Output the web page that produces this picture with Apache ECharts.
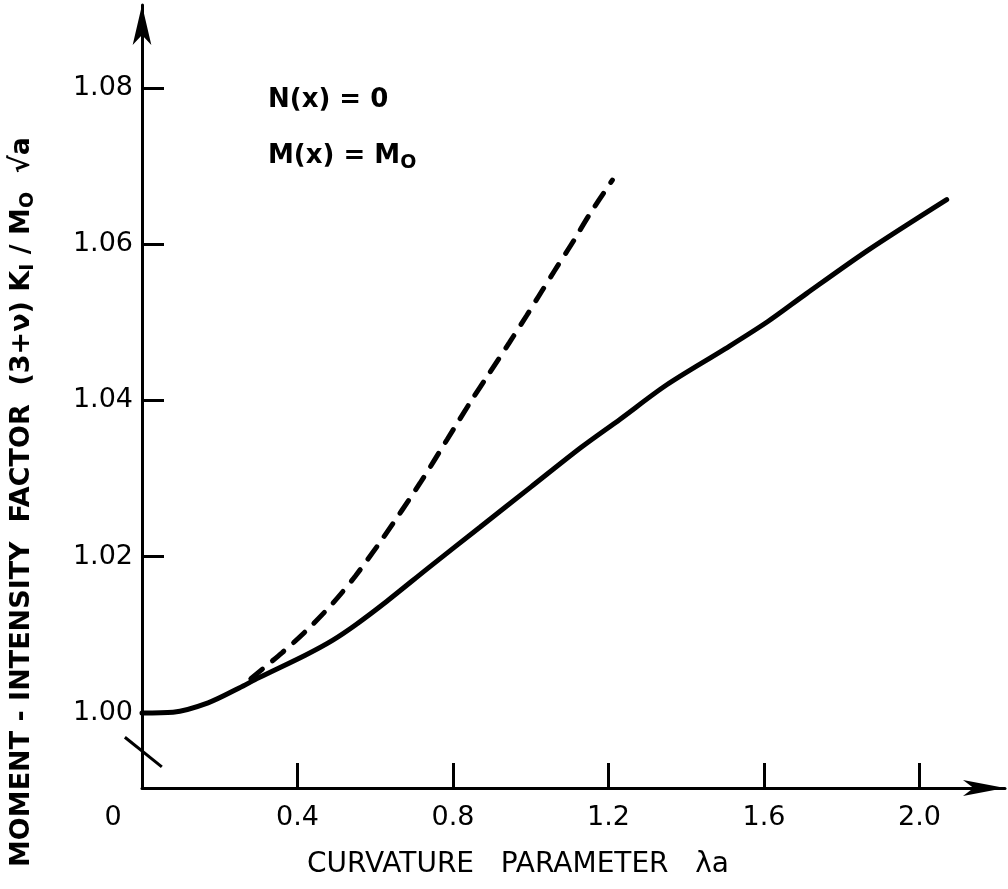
<!DOCTYPE html>
<html>
<head>
<meta charset="utf-8">
<title>Moment-intensity factor</title>
<script src="https://cdn.jsdelivr.net/npm/echarts@6/dist/echarts.min.js"></script>
<style>
  html, body { margin: 0; padding: 0; background: #fff; }
  #main { width: 1008px; height: 889px; }
</style>
</head>
<body>
<div id="main"></div>
<script>
// solid curve
var solidX = [0, 0.08, 0.17, 0.25, 0.30, 0.42, 0.49, 0.55, 0.63, 0.74, 0.87, 1.00, 1.13, 1.23, 1.35, 1.50, 1.61, 1.71, 1.87, 2.07];
var solidY = [1.0000, 1.0001, 1.0013, 1.0032, 1.0045, 1.0074, 1.0093, 1.0113, 1.0143, 1.0187, 1.0238, 1.0289, 1.0340, 1.0376, 1.0420, 1.0466, 1.0501, 1.0537, 1.0593, 1.0657];
// dashed curve
var dashX = [0.28, 0.36, 0.42, 0.49, 0.55, 0.62, 0.715, 0.785, 0.845, 0.895, 0.945, 0.99, 1.02, 1.06, 1.11, 1.15, 1.21];
var dashY = [1.0044, 1.0077, 1.0104, 1.0140, 1.0176, 1.0224, 1.0294, 1.0350, 1.0398, 1.0436, 1.0474, 1.0509, 1.0533, 1.0565, 1.0604, 1.0637, 1.0682];

var xTicks = [0.4, 0.8, 1.2, 1.6, 2.0];
var xLabels = [0, 0.4, 0.8, 1.2, 1.6, 2.0];
var yTicks = [1.00, 1.02, 1.04, 1.06, 1.08];

// little "broken axis" slash near the origin (data coords)
var breakX = [-0.044, 0.051];
var breakY = [0.9969, 0.9931];

function pairs(xs, ys) {
    return xs.map(function (x, i) { return [x, ys[i]]; });
}

var font = 'DejaVu Sans';
var chart = echarts.init(document.getElementById('main'), null, {renderer: 'canvas'});

chart.setOption({
    backgroundColor: '#fff',
    animation: false,
    grid: {left: 142, right: 3, top: 5, bottom: 101},
    xAxis: {
        type: 'value',
        min: 0,
        max: 2.22,
        splitLine: {show: false},
        axisLine: {
            onZero: false,
            symbol: ['none', 'arrow'],
            symbolSize: [12, 42],
            lineStyle: {color: '#000', width: 3}
        },
        axisTick: {
            inside: true,
            length: 25,
            customValues: xTicks,
            lineStyle: {color: '#000', width: 3}
        },
        axisLabel: {
            customValues: xLabels,
            margin: 16,
            color: '#000',
            fontFamily: font,
            fontSize: 27,
            formatter: function (v) {
                return v === 0 ? '{z|0}' : v.toFixed(1);
            },
            rich: {
                z: {padding: [0, 58, 0, 0], fontFamily: font, fontSize: 27, color: '#000'}
            }
        }
    },
    yAxis: {
        type: 'value',
        min: 0.9904,
        max: 1.0906,
        splitLine: {show: false},
        axisLine: {
            onZero: false,
            symbol: ['none', 'arrow'],
            symbolSize: [14, 40],
            lineStyle: {color: '#000', width: 3}
        },
        axisTick: {
            inside: true,
            length: 22,
            customValues: yTicks,
            lineStyle: {color: '#000', width: 3}
        },
        axisLabel: {
            customValues: yTicks,
            margin: 9,
            color: '#000',
            fontFamily: font,
            fontSize: 27,
            formatter: function (v) { return v.toFixed(2); }
        }
    },
    series: [
        {
            type: 'line',
            data: pairs(solidX, solidY),
            smooth: 0.3,
            showSymbol: false,
            lineStyle: {color: '#000', width: 5, cap: 'round'}
        },
        {
            type: 'line',
            data: pairs(dashX, dashY),
            smooth: 0.3,
            showSymbol: false,
            lineStyle: {color: '#000', width: 5, type: [15, 13], cap: 'round'}
        }
    ],
    graphic: [
        {
            type: 'text',
            left: 268,
            top: 87,
            style: {text: 'N(x) = 0', font: 'bold 26px "DejaVu Sans"', fill: '#000'}
        },
        {
            type: 'text',
            left: 268,
            top: 143,
            style: {
                text: 'M(x) = M{s|O}',
                font: 'bold 26px "DejaVu Sans"',
                fill: '#000',
                rich: {s: {fontSize: 19, fontWeight: 'bold', fontFamily: font, fill: '#000', padding: [14, 0, 0, 0]}}
            }
        },
        {
            type: 'text',
            x: 22,
            y: 502,
            rotation: Math.PI / 2,
            style: {
                text: 'MOMENT - INTENSITY  FACTOR  (3+ν) K{s|I} / M{s|O}  √a',
                font: 'bold 27px "DejaVu Sans"',
                fill: '#000',
                align: 'center',
                verticalAlign: 'middle',
                rich: {s: {fontSize: 19, fontWeight: 'bold', fontFamily: font, fill: '#000', padding: [12, 0, 0, 0]}}
            }
        },
        {
            type: 'text',
            x: 518,
            y: 865,
            style: {
                text: 'CURVATURE   PARAMETER   λa',
                font: '28px "DejaVu Sans"',
                fill: '#000',
                align: 'center',
                verticalAlign: 'middle'
            }
        }
    ]
});

// break slash drawn from data coords through the grid's own scale
var p0 = chart.convertToPixel({gridIndex: 0}, [breakX[0], breakY[0]]);
var p1 = chart.convertToPixel({gridIndex: 0}, [breakX[1], breakY[1]]);
chart.setOption({
    graphic: [{
        id: 'breakMark',
        type: 'line',
        shape: {x1: p0[0], y1: p0[1], x2: p1[0], y2: p1[1]},
        style: {stroke: '#000', lineWidth: 3}
    }]
});
</script>
</body>
</html>
